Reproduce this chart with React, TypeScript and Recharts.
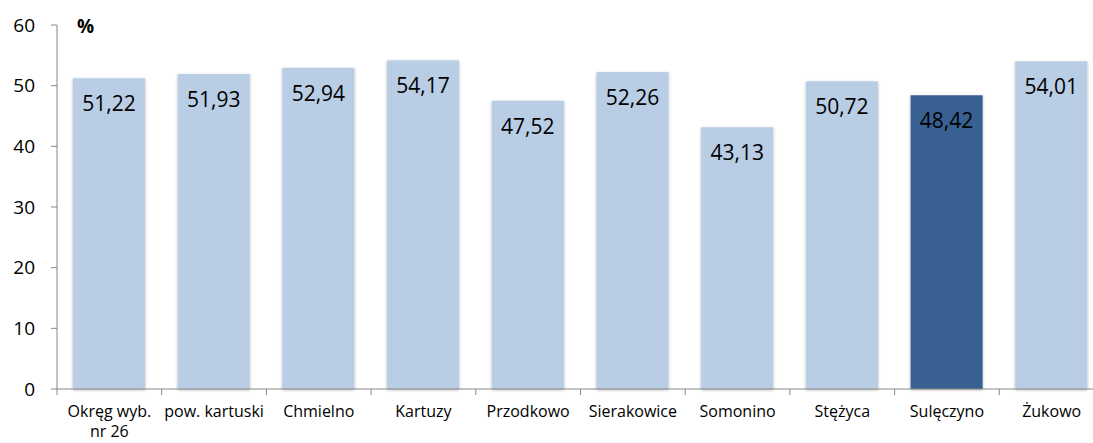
import React from 'react'
import { BarChart, Bar, XAxis, YAxis, Cell, LabelList } from 'recharts'

const categories = [
  'Okręg wyb.\nnr 26', 'pow. kartuski', 'Chmielno', 'Kartuzy', 'Przodkowo',
  'Sierakowice', 'Somonino', 'Stężyca', 'Sulęczyno', 'Żukowo',
]
const values = [51.22, 51.93, 52.94, 54.17, 47.52, 52.26, 43.13, 50.72, 48.42, 54.01]
const highlighted = ['Sulęczyno']
const yTicks = [0, 10, 20, 30, 40, 50, 60]

const LIGHT = '#B9CDE5'
const DARK = '#376092'
const AXIS = '#868686'
const FONT = '"Open Sans", sans-serif'

const data = categories.map((name, i) => ({ name, value: values[i] }))

const fmtPl = (v: number) => v.toFixed(2).replace('.', ',')

function XTick(props: any) {
  const { x, y, payload } = props
  const off = payload?.offset ?? 0
  const lines = String(payload.value).split('\n')
  return (
    <g>
      <line x1={x - off} x2={x - off} y1={y} y2={y + 6} stroke={AXIS} strokeWidth={1} />
      <text x={x} y={y + 28} textAnchor="middle" fontSize={16} fontFamily={FONT} fill="#000">
        {lines.map((l, i) => (
          <tspan key={i} x={x} dy={i === 0 ? 0 : 20}>{l}</tspan>
        ))}
      </text>
    </g>
  )
}

function ShadowBar(props: any) {
  const { x, y, width, height, fill } = props
  return (
    <g>
      <defs>
        <filter id="barShadow" x="-20%" y="-20%" width="140%" height="140%">
          <feDropShadow dx="0" dy="1" stdDeviation="1.5" floodColor="#000" floodOpacity="0.3" />
        </filter>
      </defs>
      <rect x={x} y={y} width={width} height={height} fill={fill} filter="url(#barShadow)" />
    </g>
  )
}

export default function App() {
  return (
    <div style={{ position: 'absolute', left: 0, top: 0, width: 1093, height: 443, overflow: 'hidden', background: '#fff' }}>
      <BarChart
        width={1110}
        height={443}
        data={data}
        margin={{ top: 25, right: 6, bottom: 0, left: 0 }}
      >
        <YAxis
          width={57}
          domain={[0, 60]}
          ticks={yTicks}
          interval={0}
          axisLine={{ stroke: AXIS }}
          tickLine={{ stroke: AXIS }}
          tickSize={6}
          tickMargin={16}
          tick={{ fontSize: 19, fontFamily: FONT, fill: '#000' }}
        />
        <XAxis
          dataKey="name"
          height={54}
          interval={0}
          axisLine={{ stroke: AXIS }}
          tickLine={false}
          tickSize={0}
          tickMargin={0}
          tick={<XTick />}
        />
        <Bar dataKey="value" barSize={72} isAnimationActive={false} shape={<ShadowBar />}>
          {data.map((d, i) => (
            <Cell key={i} fill={highlighted.includes(d.name) ? DARK : LIGHT} />
          ))}
          <LabelList
            dataKey="value"
            position="insideTop"
            offset={18}
            formatter={(v: any) => fmtPl(Number(v))}
            style={{ fontSize: 21, fontFamily: FONT, fill: '#000' }}
          />
        </Bar>
      </BarChart>
      <div
        style={{
          position: 'absolute', left: 77, top: 14, fontFamily: FONT,
          fontWeight: 'bold', fontSize: 19, lineHeight: '24px', color: '#000',
        }}
      >
        %
      </div>
    </div>
  )
}
